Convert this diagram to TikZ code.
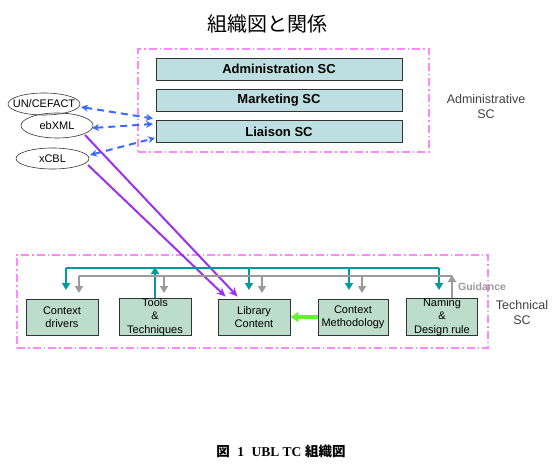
\documentclass[tikz,border=0pt]{standalone}
\usepackage{fontspec}
\setmainfont{Liberation Sans}
\newfontfamily\cjk{Noto Sans CJK JP}
\newfontfamily\serifcap{Liberation Serif}
\usetikzlibrary{shapes.geometric,arrows.meta,calc}
\definecolor{pinkline}{HTML}{FF88FF}
\definecolor{adminfill}{HTML}{BEDFE1}
\definecolor{techfill}{HTML}{BCDDCB}
\definecolor{boxline}{HTML}{333333}
\definecolor{blueline}{HTML}{3A6BFF}
\definecolor{purpleline}{HTML}{9B30F0}
\definecolor{tealline}{HTML}{009A9E}
\definecolor{grayline}{HTML}{9A9A9A}
\definecolor{greenline}{HTML}{66F030}
\definecolor{labeltext}{HTML}{404040}
\tikzset{
  group/.style={draw=pinkline, line width=1.4pt, dash pattern=on 8pt off 3pt on 1.5pt off 3pt},
  adminbox/.style={draw=boxline, line width=0.9pt, fill=adminfill, minimum width=246pt, minimum height=22pt, inner sep=0pt, font=\fontsize{13}{14}\selectfont\bfseries},
  techbox/.style={draw=boxline, line width=0.9pt, fill=techfill, minimum height=36pt, inner sep=0pt, align=center, font=\fontsize{11}{12.7}\selectfont},
  org/.style={draw=boxline, line width=0.6pt, ellipse, inner xsep=-14pt, inner ysep=-5pt, font=\fontsize{11}{12}\selectfont},
  liaisonarrow/.style={draw=blueline, line width=2pt, dash pattern=on 7pt off 5pt, {Stealth[length=7pt,width=7pt]}-{Stealth[length=7pt,width=7pt]}},
  contentarrow/.style={draw=purpleline, line width=2pt, -{Stealth[length=9pt,width=8pt]}},
  tealbus/.style={draw=tealline, line width=2pt},
  graybus/.style={draw=grayline, line width=2pt},
  tealtip/.style={draw=tealline, line width=2pt, -{Triangle[length=7pt,width=8pt]}},
  graytip/.style={draw=grayline, line width=2pt, -{Triangle[length=7pt,width=8pt]}},
  sidelabel/.style={text=labeltext, align=center, font=\fontsize{12.5}{15}\selectfont},
}
\begin{document}
\begin{tikzpicture}[x=1pt,y=-1pt]
\useasboundingbox (0,0) rectangle (557,465);
% title
\node (title) at (267,24) {\cjk\fontsize{20}{22}\selectfont 組織図と関係};
% administrative group
\node[group, minimum width=291pt, minimum height=103pt, inner sep=0pt] (admgrp) at (283.5,100.5) {};
\node[adminbox] (adm) at (279,69) {Administration SC};
\node[adminbox] (mkt) at (279,100) {Marketing SC};
\node[adminbox] (lia) at (279,131.5) {Liaison SC};
\node[sidelabel] (admlbl) at (486,106.5) {Administrative\\SC};
% external organisations
\node[org, minimum width=72pt, minimum height=22pt] (un) at (44,104) {UN/CEFACT};
\node[org, minimum width=72pt, minimum height=25pt] (eb) at (57,125.5) {ebXML};
\node[org, minimum width=73pt, minimum height=21pt] (xc) at (52.5,158.5) {xCBL};
% technical group
\node[group, minimum width=471pt, minimum height=93pt, inner sep=0pt] (tecgrp) at (252.5,301.5) {};
\node[techbox, minimum width=72pt] (cd) at (62,317) {Context\\drivers};
\node[techbox, minimum width=72pt, font=\fontsize{11}{13.5}\selectfont] (tt) at (155,317) {Tools\\\&\\Techniques};
\node[techbox, minimum width=72pt] (lib) at (254,317) {Library\\Content};
\node[techbox, minimum width=70pt] (cm) at (353,317) {Context\\Methodology};
\node[techbox, minimum width=71pt, font=\fontsize{11}{13.5}\selectfont] (nd) at (442,317) {Naming\\\&\\Design rule};
\node[sidelabel] (teclbl) at (522,312.5) {Technical\\SC};
\node[text=grayline, font=\fontsize{10.5}{12}\selectfont\bfseries] (guid) at (482,287) {Guidance};
% liaison arrows
\coordinate (l1) at (153,118.5);
\coordinate (l2) at (153,124);
\coordinate (l3) at (155,138);
\coordinate (u1) at (81,107);
\coordinate (e1) at (92,128);
\coordinate (x1) at (90,155);
\draw[liaisonarrow] (u1) -- (l1);
\draw[liaisonarrow] (e1) -- (l2);
\draw[liaisonarrow] (x1) -- (l3);
% content arrows
\coordinate (e2) at (85,135);
\coordinate (x2) at (88,165);
\draw[contentarrow] (e2) -- ($(lib.north west)+(20,-2)$);
\draw[contentarrow] (x2) -- ($(lib.north west)+(8,-2)$);
% teal bus
\coordinate (t1) at (66,268);
\coordinate (t2) at (155,268);
\coordinate (t3) at (249,268);
\coordinate (t4) at (349,268);
\coordinate (t5) at (439,268);
\draw[tealbus] (t1) -- (t5);
\draw[tealtip] (t1) -- (66,290);
\draw[tealtip] (t3) -- (249,290);
\draw[tealtip] (t4) -- (349,290);
\draw[tealtip] (t5) -- (439,290);
\draw[tealtip] (tt.north -| t2) -- (155,267);
% gray bus
\coordinate (g1) at (79,276);
\coordinate (g2) at (164,276);
\coordinate (g3) at (262,276);
\coordinate (g4) at (362,276);
\coordinate (g5) at (452,276);
\draw[graybus] (g1) -- (g5);
\draw[graytip] (g1) -- (79,293);
\draw[graytip] (g2) -- (164,293);
\draw[graytip] (g3) -- (262,293);
\draw[graytip] (g4) -- (362,293);
\draw[graytip] (nd.north -| g5) -- (452,275);
% methodology to library
\draw[draw=greenline, line width=3.5pt, -{Triangle[length=8pt,width=10pt]}] (cm.west) -- (lib.east);
% caption
\node (cap) at (281,451) {\fontsize{13.5}{15}\selectfont\bfseries{\cjk 図}\ \ {\serifcap 1}\ \ {\serifcap UBL TC}\ {\cjk 組織図}};
\end{tikzpicture}
\end{document}
